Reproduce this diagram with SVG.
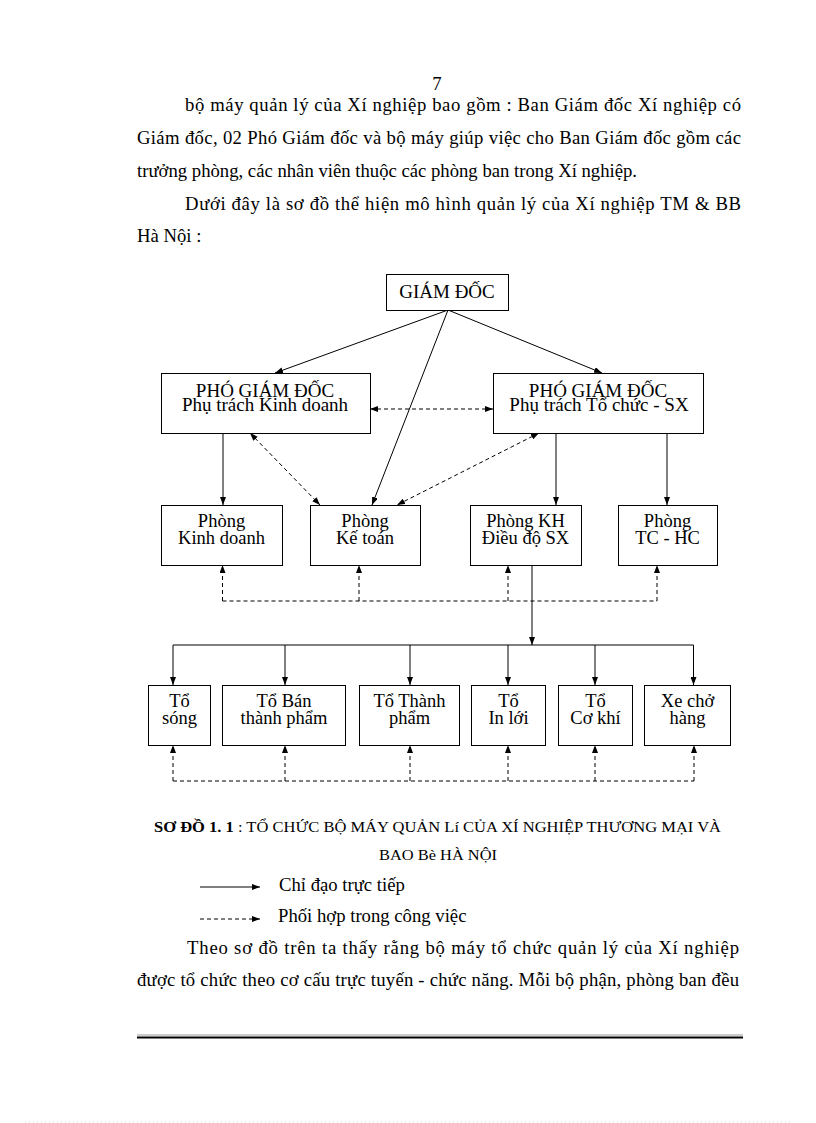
<svg xmlns="http://www.w3.org/2000/svg" width="816" height="1123" viewBox="0 0 816 1123">
<style>
text{font-family:"Liberation Serif","Times New Roman",serif;fill:#000}
.p{font-size:18.7px}
.n{font-size:18.5px;text-anchor:middle}
.big{font-size:19px;text-anchor:middle}
.cap{font-size:15px}
.box{fill:#fff;stroke:#000;stroke-width:1}
.ln{fill:none;stroke:#000;stroke-width:1}
.ds{fill:none;stroke:#000;stroke-width:1;stroke-dasharray:4 3}
</style>
<defs>
<marker id="ah" viewBox="0 0 8 6" refX="8" refY="3" markerWidth="8" markerHeight="6" markerUnits="userSpaceOnUse" orient="auto-start-reverse">
<path d="M0,0 L8,3 L0,6 Z" fill="#000"/>
</marker>
</defs>
<rect width="816" height="1123" fill="#fff"/>

<g id="page-text">
<text class="p" x="437" y="90" text-anchor="middle">7</text>
<text class="p" x="185" y="111" textLength="556" lengthAdjust="spacing">bộ máy quản lý của Xí nghiệp bao gồm : Ban Giám đốc Xí nghiệp có</text>
<text class="p" x="137" y="144" textLength="604" lengthAdjust="spacing">Giám đốc, 02 Phó Giám đốc và bộ máy giúp việc cho Ban Giám đốc gồm các</text>
<text class="p" x="137" y="177">trưởng phòng, các nhân viên thuộc các phòng ban trong Xí nghiệp.</text>
<text class="p" x="185" y="209.5" textLength="556" lengthAdjust="spacing">Dưới đây là sơ đồ thể hiện mô hình quản lý của Xí nghiệp TM &amp; BB</text>
<text class="p" x="137" y="242">Hà Nội :</text>
</g>

<g id="connectors">
<line class="ln" x1="448" y1="310" x2="275" y2="373" marker-end="url(#ah)"/>
<line class="ln" x1="448" y1="310" x2="602" y2="373" marker-end="url(#ah)"/>
<line class="ln" x1="448" y1="310" x2="372" y2="505" marker-end="url(#ah)"/>
<line class="ln" x1="223" y1="433" x2="223" y2="505" marker-end="url(#ah)"/>
<line class="ln" x1="556" y1="433" x2="556" y2="505" marker-end="url(#ah)"/>
<line class="ln" x1="667" y1="433" x2="667" y2="505" marker-end="url(#ah)"/>
<line class="ds" x1="370" y1="409" x2="493" y2="409" marker-start="url(#ah)" marker-end="url(#ah)"/>
<line class="ds" x1="250" y1="433" x2="320" y2="505" marker-start="url(#ah)" marker-end="url(#ah)"/>
<line class="ds" x1="539" y1="433" x2="397" y2="505" marker-start="url(#ah)" marker-end="url(#ah)"/>
<polyline class="ds" points="222.5,601 657,601"/>
<line class="ds" x1="222.5" y1="601" x2="222.5" y2="565" marker-end="url(#ah)"/>
<line class="ds" x1="359" y1="601" x2="359" y2="565" marker-end="url(#ah)"/>
<line class="ds" x1="508" y1="601" x2="508" y2="565" marker-end="url(#ah)"/>
<line class="ds" x1="657" y1="601" x2="657" y2="565" marker-end="url(#ah)"/>
<line class="ln" x1="532" y1="565" x2="532" y2="645" marker-end="url(#ah)"/>
<line class="ln" x1="173" y1="645" x2="693.5" y2="645"/>
<line class="ln" x1="173" y1="645" x2="173" y2="685" marker-end="url(#ah)"/>
<line class="ln" x1="285" y1="645" x2="285" y2="685" marker-end="url(#ah)"/>
<line class="ln" x1="410" y1="645" x2="410" y2="685" marker-end="url(#ah)"/>
<line class="ln" x1="508" y1="645" x2="508" y2="685" marker-end="url(#ah)"/>
<line class="ln" x1="595" y1="645" x2="595" y2="685" marker-end="url(#ah)"/>
<line class="ln" x1="693.5" y1="645" x2="693.5" y2="685" marker-end="url(#ah)"/>
<polyline class="ds" points="173,781 694,781"/>
<line class="ds" x1="173" y1="781" x2="173" y2="745" marker-end="url(#ah)"/>
<line class="ds" x1="285" y1="781" x2="285" y2="745" marker-end="url(#ah)"/>
<line class="ds" x1="410" y1="781" x2="410" y2="745" marker-end="url(#ah)"/>
<line class="ds" x1="508" y1="781" x2="508" y2="745" marker-end="url(#ah)"/>
<line class="ds" x1="595" y1="781" x2="595" y2="745" marker-end="url(#ah)"/>
<line class="ds" x1="694" y1="781" x2="694" y2="745" marker-end="url(#ah)"/>
</g>

<g id="giam-doc">
<rect class="box" x="386.5" y="274.5" width="122" height="36"/>
<text class="big" x="447" y="298">GIÁM ĐỐC</text>
</g>
<g id="pgd-kinh-doanh">
<rect class="box" x="161.5" y="373.5" width="209" height="60"/>
<text class="big" x="265" y="397">PHÓ GIÁM ĐỐC</text>
<text class="big" x="265" y="410.5">Phụ trách Kinh doanh</text>
</g>
<g id="pgd-to-chuc">
<rect class="box" x="493.5" y="373.5" width="210" height="60"/>
<text class="big" x="598" y="397">PHÓ GIÁM ĐỐC</text>
<text class="big" x="599" y="410.5">Phụ trách Tổ chức - SX</text>
</g>
<g id="phong-kinh-doanh">
<rect class="box" x="161.5" y="505.5" width="121" height="60"/>
<text class="n" x="221.5" y="527">Phòng</text>
<text class="n" x="221.5" y="543.5">Kinh doanh</text>
</g>
<g id="phong-ke-toan">
<rect class="box" x="310.5" y="505.5" width="110" height="60"/>
<text class="n" x="365" y="527">Phòng</text>
<text class="n" x="365" y="543.5">Kế toán</text>
</g>
<g id="phong-kh">
<rect class="box" x="470.5" y="505.5" width="111" height="60"/>
<text class="n" x="525.5" y="527">Phòng KH</text>
<text class="n" x="525.5" y="543.5">Điều độ SX</text>
</g>
<g id="phong-tc-hc">
<rect class="box" x="618.5" y="505.5" width="99" height="60"/>
<text class="n" x="667.5" y="527">Phòng</text>
<text class="n" x="667.5" y="543.5">TC - HC</text>
</g>

<g id="to-song">
<rect class="box" x="148.5" y="685.5" width="62" height="60"/>
<text class="n" x="179.5" y="707">Tổ</text>
<text class="n" x="179.5" y="724">sóng</text>
</g>
<g id="to-ban-thanh-pham">
<rect class="box" x="222.5" y="685.5" width="123" height="60"/>
<text class="n" x="284" y="707">Tổ Bán</text>
<text class="n" x="284" y="724">thành phẩm</text>
</g>
<g id="to-thanh-pham">
<rect class="box" x="359.5" y="685.5" width="100" height="60"/>
<text class="n" x="409.5" y="707">Tổ Thành</text>
<text class="n" x="409.5" y="724">phẩm</text>
</g>
<g id="to-in-loi">
<rect class="box" x="471.5" y="685.5" width="74" height="60"/>
<text class="n" x="508.5" y="707">Tổ</text>
<text class="n" x="508.5" y="724">In lới</text>
</g>
<g id="to-co-khi">
<rect class="box" x="558.5" y="685.5" width="74" height="60"/>
<text class="n" x="595.5" y="707">Tổ</text>
<text class="n" x="595.5" y="724">Cơ khí</text>
</g>
<g id="xe-cho-hang">
<rect class="box" x="644.5" y="685.5" width="86" height="60"/>
<text class="n" x="687.5" y="707">Xe chở</text>
<text class="n" x="687.5" y="724">hàng</text>
</g>

<g id="caption">
<text class="cap" x="154" y="832" textLength="567" lengthAdjust="spacingAndGlyphs"><tspan font-weight="bold">SƠ ĐỒ 1. 1</tspan> : TỔ CHỨC BỘ MÁY QUẢN Lí CỦA XÍ NGHIỆP THƯƠNG MẠI VÀ</text>
<text class="cap" x="379" y="860" textLength="118" lengthAdjust="spacingAndGlyphs">BAO Bè HÀ NỘI</text>
</g>

<g id="legend">
<line class="ln" x1="200" y1="887" x2="260" y2="887" marker-end="url(#ah)"/>
<text class="p" x="279" y="891">Chỉ đạo trực tiếp</text>
<line class="ds" x1="200" y1="919" x2="260" y2="919" marker-end="url(#ah)"/>
<text class="p" x="278" y="922">Phối hợp trong công việc</text>
</g>

<g id="page-text-bottom">
<text class="p" x="187" y="954" textLength="552" lengthAdjust="spacing">Theo sơ đồ trên ta thấy rằng bộ máy tổ chức quản lý của Xí nghiệp</text>
<text class="p" x="137" y="986" textLength="602" lengthAdjust="spacing">được tổ chức theo cơ cấu trực tuyến - chức năng. Mỗi bộ phận, phòng ban đều</text>
<line x1="137" y1="1035" x2="743" y2="1035" stroke="#999" stroke-width="1"/>
<line x1="137" y1="1037.5" x2="743" y2="1037.5" stroke="#000" stroke-width="2"/>
<line x1="25" y1="1122" x2="790" y2="1122" stroke="#ccc" stroke-width="1" stroke-dasharray="1 3"/>
</g>
</svg>
